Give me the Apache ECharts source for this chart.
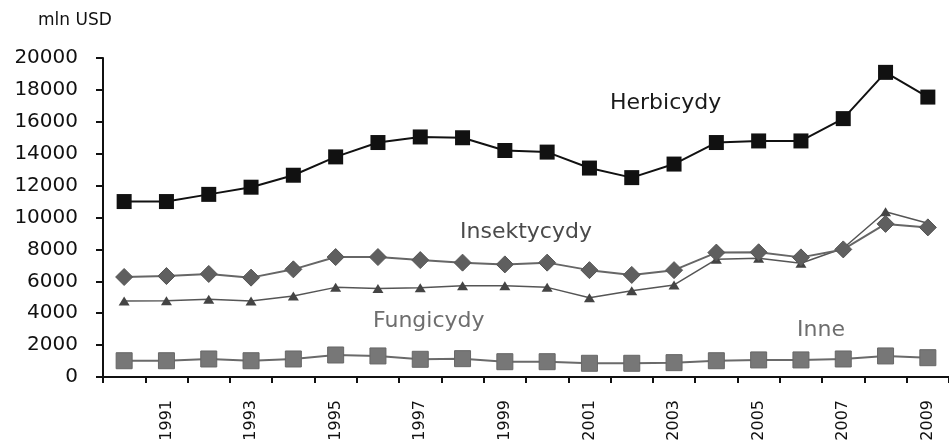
<!DOCTYPE html>
<html>
<head>
<meta charset="utf-8">
<script src="https://cdn.jsdelivr.net/npm/echarts@6/dist/echarts.min.js"></script>
<style>html,body{margin:0;padding:0;background:#fff;}#c{width:949px;height:444px;}</style>
</head>
<body>
<div id="c"></div>
<script>
var years = ['1990','1991','1992','1993','1994','1995','1996','1997','1998','1999','2000','2001','2002','2003','2004','2005','2006','2007','2008','2009'];
var herbicydy = [11000,11000,11450,11900,12650,13800,14700,15050,15000,14200,14100,13100,12500,13350,14700,14800,14800,16200,19100,17550];
var insektycydy = [6270,6330,6460,6230,6750,7520,7520,7330,7170,7060,7170,6700,6400,6700,7800,7820,7500,8000,9600,9380];
var fungicydy = [4760,4780,4870,4760,5080,5620,5550,5600,5720,5720,5620,4970,5410,5770,7380,7440,7130,8070,10360,9640];
var inne = [1020,1020,1130,1020,1130,1380,1320,1110,1150,960,960,860,860,900,1020,1070,1070,1130,1320,1210];
var yTicks = {min: 0, max: 20000, step: 2000};
var seriesNames = ['Herbicydy','Insektycydy','Fungicydy','Inne'];
var unitLabel = 'mln USD';

var FONT = 'DejaVu Sans';
var chart = echarts.init(document.getElementById('c'), null, {renderer: 'canvas'});
chart.setOption({
  animation: false,
  backgroundColor: '#ffffff',
  grid: {left: 103, right: -12, top: 58, bottom: 67},
  xAxis: {
    type: 'category',
    data: years,
    boundaryGap: true,
    axisLine: {lineStyle: {color: '#111', width: 2}},
    axisTick: {show: true, interval: 0, length: 6, lineStyle: {color: '#111', width: 2}},
    axisLabel: {
      interval: function (i) { return i % 2 === 1; },
      rotate: 90, margin: 23, fontSize: 16, fontFamily: FONT, color: '#111'
    },
    splitLine: {show: false}
  },
  yAxis: {
    type: 'value',
    min: yTicks.min, max: yTicks.max, interval: yTicks.step,
    axisLine: {show: true, lineStyle: {color: '#111', width: 2}},
    axisTick: {show: true, length: 7, lineStyle: {color: '#111', width: 2}},
    axisLabel: {margin: 25, fontSize: 20, fontFamily: FONT, color: '#111',
      formatter: function (v) { return String(v); }},
    splitLine: {show: false}
  },
  graphic: [
    {type: 'text', left: 38, top: 12, style: {text: unitLabel, font: '17px "DejaVu Sans"', fill: '#111'}},
    {type: 'text', x: 610, y: 103, style: {text: seriesNames[0], font: '22px "DejaVu Sans"', fill: '#1a1a1a', textVerticalAlign: 'middle'}},
    {type: 'text', x: 460, y: 232, style: {text: seriesNames[1], font: '22px "DejaVu Sans"', fill: '#4a4a4a', textVerticalAlign: 'middle'}},
    {type: 'text', x: 373, y: 321, style: {text: seriesNames[2], font: '22px "DejaVu Sans"', fill: '#6e6e6e', textVerticalAlign: 'middle'}},
    {type: 'text', x: 797, y: 330, style: {text: seriesNames[3], font: '22px "DejaVu Sans"', fill: '#6e6e6e', textVerticalAlign: 'middle'}}
  ],
  series: [
    {name: seriesNames[3], type: 'line', data: inne, symbol: 'rect', symbolSize: 16,
     lineStyle: {color: '#6a6a6a', width: 2}, itemStyle: {color: '#777', borderColor: '#666', borderWidth: 1}, z: 2},
    {name: seriesNames[2], type: 'line', data: fungicydy, symbol: 'triangle', symbolSize: [11, 9],
     lineStyle: {color: '#555', width: 1.5}, itemStyle: {color: '#444'}, z: 3},
    {name: seriesNames[1], type: 'line', data: insektycydy, symbol: 'diamond', symbolSize: [17, 17],
     lineStyle: {color: '#666', width: 2}, itemStyle: {color: '#5f5f5f', borderColor: '#555', borderWidth: 1}, z: 4},
    {name: seriesNames[0], type: 'line', data: herbicydy, symbol: 'rect', symbolSize: 15,
     lineStyle: {color: '#111', width: 2}, itemStyle: {color: '#111'}, z: 5}
  ]
});
</script>
</body>
</html>
